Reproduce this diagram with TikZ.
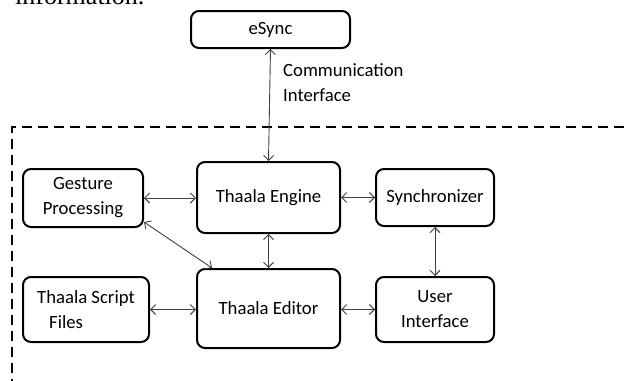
\documentclass[tikz,border=0pt]{standalone}
\usepackage{fontspec}
\setmainfont{Carlito}
\newfontfamily\serifpaper{Liberation Serif}
\usetikzlibrary{arrows.meta}
\begin{document}
\begin{tikzpicture}[x=1pt,y=-1pt,
  blk/.style={draw=black, line width=2pt, rounded corners=8pt, align=center,
    font=\fontsize{18.7}{25}\selectfont, inner sep=0pt},
  link/.style={draw=black!75, line width=0.9pt,
    {Straight Barb[length=5pt,width=10pt]}-{Straight Barb[length=5pt,width=10pt]}},
  frame/.style={draw=black, line width=2pt, dash pattern=on 10pt off 6pt}]
\useasboundingbox (0,0) rectangle (628,380);
\clip (0,0) rectangle (628,380);
\node[anchor=base west, font=\serifpaper\fontsize{26}{30}\selectfont, inner sep=0pt] (intro) at (15,5) {information.};
\node[blk, minimum width=159pt, minimum height=37pt] (esync) at (270.5,29.5) {eSync};
\node[blk, minimum width=120pt, minimum height=58pt] (gest) at (83,198) {Gesture\\Processing};
\node[blk, minimum width=143pt, minimum height=71pt] (eng) at (268.5,197.5) {Thaala Engine};
\node[blk, minimum width=118pt, minimum height=57pt] (sync) at (435,197.5) {Synchronizer};
\node[blk, minimum width=126pt, minimum height=65pt, align=left] (script) at (86,309.5) {Thaala Script\\\hspace*{12pt}Files};
\node[blk, minimum width=143pt, minimum height=79pt] (edit) at (268.5,308.5) {Thaala Editor};
\node[blk, minimum width=118pt, minimum height=65pt] (ui) at (435,309.5) {User\\Interface};
\node[anchor=north west, align=left, inner sep=0pt, font=\fontsize{18.7}{25}\selectfont] (comm) at (283,63) {Communication\\Interface};
\coordinate (ftop) at (12,127);
\coordinate (fright) at (640,127);
\coordinate (fbot) at (12,390);
\draw[frame] (fright) -- (ftop) -- (fbot);
\draw[link] (esync.south) -- (eng.north);
\draw[link] (gest.east) -- (gest.east -| eng.west);
\draw[link] (eng.east |- sync.west) -- (sync.west);
\draw[link] (eng.south) -- (edit.north);
\draw[link] (sync.south) -- (ui.north);
\draw[link] (script.east) -- (script.east -| edit.west);
\draw[link] (edit.east |- ui.west) -- (ui.west);
\draw[link] ([yshift=-8pt]gest.south east) ++(0,-14) -- ([xshift=16pt]edit.north west);
\end{tikzpicture}
\end{document}
